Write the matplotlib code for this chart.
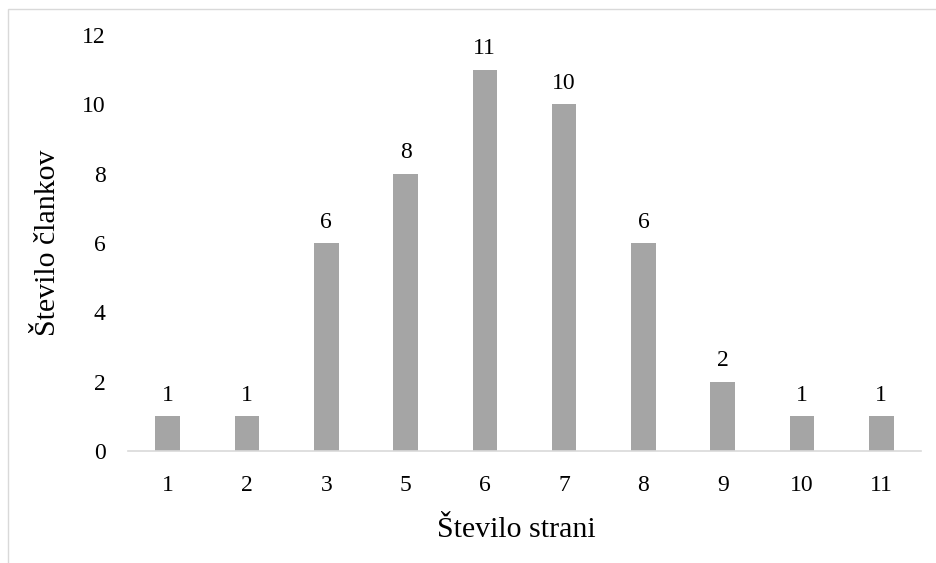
import matplotlib
matplotlib.use("Agg")
import matplotlib.pyplot as plt
from matplotlib.patches import Rectangle

categories = ["1", "2", "3", "5", "6", "7", "8", "9", "10", "11"]
values = [1, 1, 6, 8, 11, 10, 6, 2, 1, 1]
yticks = [0, 2, 4, 6, 8, 10, 12]

plt.rcParams['font.family'] = ['Liberation Serif', 'DejaVu Serif']

W, H = 936, 563
fig = plt.figure(figsize=(W/100, H/100), dpi=100)
ax = fig.add_axes([128/W, 1-451/H, (921-128)/W, (451-35)/H])

x = list(range(len(categories)))
bars = ax.bar(x, values, width=0.31, color="#A5A5A5", zorder=2)
for xi, v in zip(x, values):
    ax.text(xi, v + 0.3, str(v), ha="center", va="bottom", fontsize=17, color="#000000")

ax.set_xlim(-0.5, len(categories) - 0.5)
ax.set_ylim(0, 12)
ax.set_yticks(yticks)
ax.set_yticklabels([str(t) for t in yticks], fontsize=17)
ax.set_xticks(x)
ax.set_xticklabels(categories, fontsize=17)
ax.tick_params(axis="both", length=0)
ax.tick_params(axis="y", pad=16)
ax.tick_params(axis="x", pad=17)
for s in ["top", "right", "left"]:
    ax.spines[s].set_visible(False)
ax.spines["bottom"].set_color("#D9D9D9")
ax.spines["bottom"].set_linewidth(1.2)

fig.text(516/W, 1-530/H, "Število strani", ha="center", va="center", fontsize=21.5)
fig.text(48/W, 1-243/H, "Število člankov", ha="center", va="center", rotation=90, fontsize=21.5)

fig.patches.append(Rectangle((8/W, -0.05), 1.0, 1 - 9/H + 0.05, transform=fig.transFigure,
                             fill=False, edgecolor="#D9D9D9", linewidth=1.0))

fig.savefig("out.png", dpi=100)
